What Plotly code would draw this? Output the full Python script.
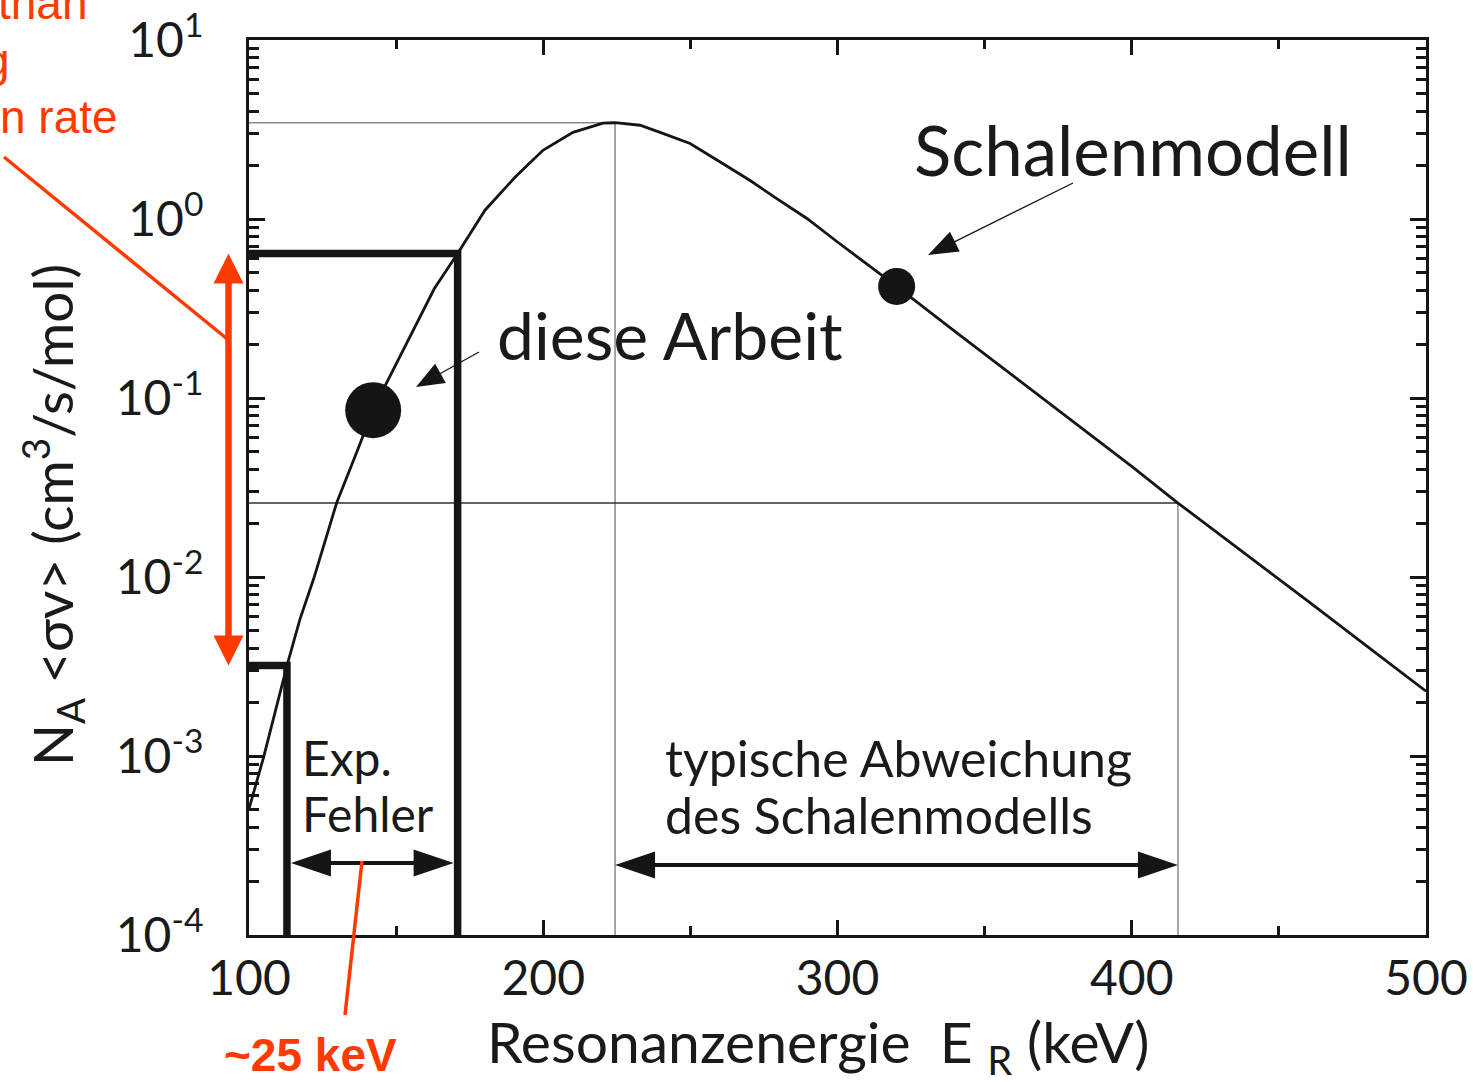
import numpy as np
import plotly.graph_objects as go

# ---------------- data ----------------
energy_keV = [100, 105, 112.9, 117.3, 122, 129.8, 136, 142.2, 146.8, 152, 157.3, 163,
              170.9, 180.2, 190.4, 199.9, 210.1, 220.3, 224.4, 232.9, 239.7, 249.9, 260,
              270.3, 280, 289.5, 300, 320.1, 340, 360, 380, 400, 415.7, 440, 460, 480, 500]
rate = [5.07e-4, 9.9e-4, 0.0032, 0.0058, 0.0098, 0.026, 0.047, 0.0855, 0.122, 0.181, 0.270, 0.409,
        0.641, 1.12, 1.71, 2.42, 3.05, 3.43, 3.45, 3.34, 3.05, 2.64, 2.09,
        1.64, 1.28, 1.01, 0.744, 0.42, 0.235, 0.132, 0.074, 0.0415, 0.0259, 0.0130, 0.00731, 0.0041, 0.0023]

this_work_E = [142.2]
this_work_rate = [0.0855]
shell_E = [320.1]
shell_rate = [0.42]

err_E_low, err_E_high = 112.9, 170.9
err_rate_low, err_rate_high = 0.0032, 0.641
peak_E, peak_rate = 224.4, 3.45
dev_E, dev_rate = 415.7, 0.0259

x_range = [100, 500]
y_decades = [-4, 1]
y_tickvals = [10.0 ** k for k in range(-4, 2)]
y_ticktext = ["10<sup>%d</sup>" % k for k in range(-4, 2)]
y_minor = [m * 10.0 ** k for k in range(-4, 1) for m in range(2, 10)]

# ---------------- layout geometry ----------------
FIG_W, FIG_H = 1473, 1082
ML, MR, MT, MB = 249, 47, 40, 147
W = FIG_W - ML - MR
H = FIG_H - MT - MB
BOT = FIG_H - MB

INK = "#151515"
RED = "#ff3a00"


def data_px(E, v):
    x = ML + (E - x_range[0]) / (x_range[1] - x_range[0]) * W
    y = BOT - (np.log10(v) - y_decades[0]) / (y_decades[1] - y_decades[0]) * H
    return x, y


def px_paper(x, y):
    return (x - ML) / W, (BOT - y) / H


def head_path(tip, tail, L, h):
    tx, ty = tip
    dx, dy = tx - tail[0], ty - tail[1]
    n = np.hypot(dx, dy)
    ux, uy = dx / n, dy / n
    bx, by = tx - L * ux, ty - L * uy
    nx, ny = -uy, ux
    pts = [(tx, ty), (bx + h * nx, by + h * ny), (bx - h * nx, by - h * ny)]
    pp = [px_paper(*p) for p in pts]
    return "M %f,%f L %f,%f L %f,%f Z" % (pp[0] + pp[1] + pp[2])


shapes = []


def add_line(p0, p1, color, width):
    a = px_paper(*p0)
    b = px_paper(*p1)
    shapes.append(dict(type="line", xref="paper", yref="paper", x0=a[0], y0=a[1],
                       x1=b[0], y1=b[1], line=dict(color=color, width=width)))


def add_arrow(tail, tip, color, width, L, h, double=False):
    dx, dy = tip[0] - tail[0], tip[1] - tail[1]
    n = np.hypot(dx, dy)
    ux, uy = dx / n, dy / n
    end = (tip[0] - 0.7 * L * ux, tip[1] - 0.7 * L * uy)
    start = tail
    if double:
        start = (tail[0] + 0.7 * L * ux, tail[1] + 0.7 * L * uy)
    add_line(start, end, color, width)
    shapes.append(dict(type="path", xref="paper", yref="paper", path=head_path(tip, tail, L, h),
                       fillcolor=color, line=dict(width=0)))
    if double:
        shapes.append(dict(type="path", xref="paper", yref="paper", path=head_path(tail, tip, L, h),
                           fillcolor=color, line=dict(width=0)))


fig = go.Figure()

# thin guide lines
fig.add_trace(go.Scatter(x=[x_range[0], peak_E, peak_E], y=[peak_rate, peak_rate, 10.0 ** y_decades[0]],
                         mode="lines", line=dict(color="#8a8a8a", width=1.5), hoverinfo="skip"))
fig.add_trace(go.Scatter(x=[x_range[0], dev_E], y=[dev_rate, dev_rate],
                         mode="lines", line=dict(color="#303030", width=1.5), hoverinfo="skip"))
fig.add_trace(go.Scatter(x=[dev_E, dev_E], y=[dev_rate, 10.0 ** y_decades[0]],
                         mode="lines", line=dict(color="#8a8a8a", width=1.5), hoverinfo="skip"))

# thick error boxes
fig.add_trace(go.Scatter(x=[x_range[0], err_E_high, err_E_high],
                         y=[err_rate_high, err_rate_high, 10.0 ** y_decades[0]],
                         mode="lines", line=dict(color=INK, width=7.5), hoverinfo="skip"))
fig.add_trace(go.Scatter(x=[x_range[0], err_E_low, err_E_low],
                         y=[err_rate_low, err_rate_low, 10.0 ** y_decades[0]],
                         mode="lines", line=dict(color=INK, width=7.5), hoverinfo="skip"))

# model curve
fig.add_trace(go.Scatter(x=energy_keV, y=rate, mode="lines",
                         line=dict(color=INK, width=2.8)))

# points
fig.add_trace(go.Scatter(x=this_work_E, y=this_work_rate, mode="markers",
                         marker=dict(size=56, color=INK, line=dict(width=0))))
fig.add_trace(go.Scatter(x=shell_E, y=shell_rate, mode="markers",
                         marker=dict(size=37, color=INK, line=dict(width=0))))

# ---------------- arrows ----------------
y_exp = 863
xl = data_px(err_E_low, 1)[0] + 4
xr = data_px(err_E_high, 1)[0] - 4
add_arrow((xl, y_exp), (xr, y_exp), INK, 4, 40, 13.5, double=True)

y_typ = 865
xl2 = data_px(peak_E, 1)[0]
xr2 = data_px(dev_E, 1)[0]
add_arrow((xl2, y_typ), (xr2, y_typ), INK, 4, 40, 13.5, double=True)

# pointer arrows
add_arrow((1073, 183), (928, 255), INK, 1.3, 30, 11)
add_arrow((479, 352), (416, 387), INK, 1.3, 28, 11)

# red annotations
xr_red = 228.5
y_top = data_px(100, err_rate_high)[1]
y_bot = data_px(100, err_rate_low)[1]
add_arrow((xr_red, y_bot), (xr_red, y_top), RED, 6.5, 30, 15, double=True)
add_line((4, 157), (xr_red, 340), RED, 3.5)
add_line((362, 861), (345, 1015), RED, 3.5)

# ---------------- texts ----------------
FONT = "Lato, Roboto, sans-serif"
annotations = []


def text(x, y, s, size, color="#1a1a1a", xanchor="left", family=FONT, angle=0):
    px, py = px_paper(x, y)
    annotations.append(dict(x=px, y=py, xref="paper", yref="paper", text=s, showarrow=False,
                            xanchor=xanchor, yanchor="middle", textangle=angle,
                            font=dict(family=family, size=size, color=color)))


text(912, 149, "Schalenmodell", 69)
text(495, 334, "diese Arbeit", 66)
text(300, 757, "Exp.", 48)
text(300, 813, "Fehler", 48)
text(663, 758, "typische Abweichung", 50)
text(663, 815, "des Schalenmodells", 50)

ARIAL = "Liberation Sans, Arial, sans-serif"
text(90, 3, "than", 46, RED, xanchor="right", family=ARIAL)
text(12, 60, "g", 46, RED, xanchor="right", family=ARIAL)
text(120, 117, "n rate", 46, RED, xanchor="right", family=ARIAL)
annotations.append(dict(x=px_paper(310, 1055)[0], y=px_paper(310, 1055)[1], xref="paper", yref="paper",
                        text="<b>~25 keV</b>", showarrow=False, xanchor="center", yanchor="middle",
                        font=dict(family=ARIAL, size=46, color=RED)))

# axis titles
text(818, 1045, "Resonanzenergie\u00a0\u00a0E\u00a0<sub>R</sub>\u00a0(keV)", 57, xanchor="center")
text(52, 515, "N<sub>A</sub>\u00a0&lt;σv&gt;\u00a0(cm<sup>3</sup>/s/mol)", 55, xanchor="center", angle=-90)

axis_common = dict(showline=True, linewidth=3, linecolor=INK, mirror="ticks", ticks="inside",
                   tickcolor=INK, tickwidth=3, showgrid=False, zeroline=False, automargin=False,
                   tickfont=dict(family=FONT, size=48, color="#1a1a1a"))

fig.update_layout(
    width=FIG_W, height=FIG_H,
    margin=dict(l=ML, r=MR, t=MT, b=MB, autoexpand=False),
    paper_bgcolor="white", plot_bgcolor="white",
    showlegend=False,
    xaxis=dict(range=x_range, tickmode="linear", tick0=100, dtick=100, ticklen=15,
               ticklabelstandoff=-1,
               minor=dict(ticks="inside", ticklen=9, tickwidth=3, tickcolor=INK, dtick=50, tick0=100,
                          showgrid=False),
               **axis_common),
    yaxis=dict(type="log", range=y_decades, tickmode="array", tickvals=y_tickvals, ticktext=y_ticktext,
               ticklen=16, ticklabelstandoff=33,
               minor=dict(ticks="inside", ticklen=10, tickwidth=3, tickcolor=INK, tickmode="array",
                          tickvals=y_minor, showgrid=False),
               **axis_common),
    shapes=shapes,
    annotations=annotations,
)

fig.write_html("out.html")
